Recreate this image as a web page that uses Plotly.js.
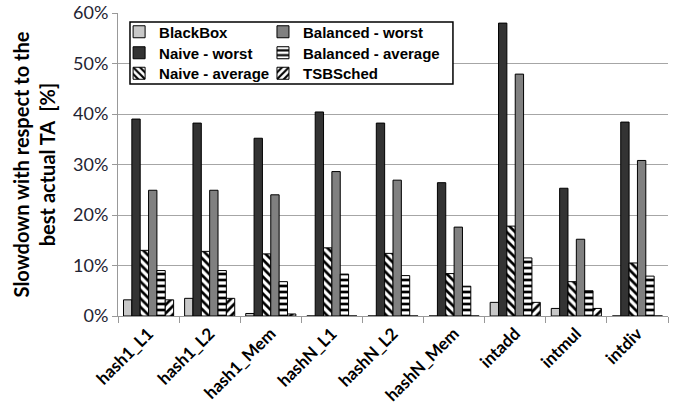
<!DOCTYPE html>
<html>
<head>
<meta charset="utf-8">
<script src="https://cdn.plot.ly/plotly-3.0.1.min.js"></script>
<style>html,body{margin:0;padding:0;background:#fff;}#chart{width:676px;height:408px;}</style>
</head>
<body>
<div id="chart"></div>
<script>
const categories = ["hash1_L1","hash1_L2","hash1_Mem","hashN_L1","hashN_L2","hashN_Mem","intadd","intmul","intdiv"];
const blackBox       = [3.2, 3.5, 0.5, 0, 0, 0, 2.7, 1.5, 0];
const naiveWorst     = [39.0, 38.2, 35.2, 40.4, 38.2, 26.4, 58.0, 25.3, 38.4];
const naiveAverage   = [13.0, 12.8, 12.3, 13.5, 12.4, 8.4, 17.8, 6.8, 10.5];
const balancedWorst  = [24.9, 24.9, 24.0, 28.6, 26.9, 17.6, 47.9, 15.2, 30.8];
const balancedAvg    = [9.0, 9.0, 6.8, 8.3, 8.0, 5.9, 11.5, 5.0, 7.9];
const tsbSched       = [3.2, 3.5, 0.4, 0, 0, 0, 2.7, 1.5, 0];
const yTicks = [0, 10, 20, 30, 40, 50, 60];
const yTickLabels = ["0%", "10%", "20%", "30%", "40%", "50%", "60%"];

const line = {color: '#000', width: 1};
function solid(name, y, color, leg) {
  return {type: 'bar', name: name, x: categories, y: y, legend: leg,
    marker: {color: color, line: line}, hoverinfo: 'skip'};
}
function hatched(name, y, shape, leg) {
  return {type: 'bar', name: name, x: categories, y: y, legend: leg,
    marker: {color: '#fff', line: line,
      pattern: {shape: shape, fgcolor: '#000', bgcolor: '#fff', size: 6, solidity: 0.45}},
    hoverinfo: 'skip'};
}
const traces = [
  solid('BlackBox', blackBox, '#c8c8c8', 'legend'),
  solid('Naive - worst', naiveWorst, '#333333', 'legend2'),
  hatched('Naive - average', naiveAverage, '\\', 'legend3'),
  solid('Balanced - worst', balancedWorst, '#808080', 'legend4'),
  hatched('Balanced - average', balancedAvg, '-', 'legend5'),
  hatched('TSBSched', tsbSched, '/', 'legend6')
];

const legFont = {family: 'Liberation Sans, Arial, sans-serif', size: 15, color: '#000', weight: 'bold'};
function leg(x, y) {
  return {x: x, y: y, xanchor: 'left', yanchor: 'middle', orientation: 'v',
    bgcolor: 'rgba(0,0,0,0)', borderwidth: 0, font: legFont, itemwidth: 30};
}
const c1 = 0.002, c2 = 0.2636;
const r1 = (316 - 32) / 303, r2 = (316 - 53) / 303, r3 = (316 - 73.5) / 303;
const layout = {
  width: 676, height: 408,
  margin: {l: 118, r: 8, t: 13, b: 92},
  paper_bgcolor: '#fff', plot_bgcolor: '#fff',
  barmode: 'group', bargap: 0.18, bargroupgap: 0,
  showlegend: true,
  legend: leg(c1, r1), legend2: leg(c1, r2), legend3: leg(c1, r3),
  legend4: leg(c2, r1), legend5: leg(c2, r2), legend6: leg(c2, r3),
  xaxis: {
    type: 'category', tickangle: -45, tickson: 'boundaries',
    ticks: 'outside', ticklen: 6, tickcolor: '#999', showline: true, linecolor: '#999', linewidth: 1,
    tickfont: {family: 'Lato, sans-serif', size: 17, color: '#000', weight: 'bold'},
    showgrid: false
  },
  yaxis: {
    range: [0, 60], tickvals: yTicks, ticktext: yTickLabels,
    ticks: 'outside', ticklen: 5, tickcolor: '#999',
    showline: true, linecolor: '#999', linewidth: 1,
    showgrid: true, gridcolor: '#a6a6a6', gridwidth: 1, zeroline: false,
    tickfont: {family: 'Lato, sans-serif', size: 18, color: '#1f2433'},
    title: {text: 'Slowdown with respect to the<br>best actual TA  [%]', standoff: 12,
      font: {family: 'Lato, sans-serif', size: 20, color: '#000', weight: 'bold'}}
  },
  shapes: [{type: 'rect', xref: 'paper', yref: 'paper', x0: 0.0218, x1: 0.609, y0: 0.7657, y1: 0.970,
    fillcolor: '#fff', line: {color: '#000', width: 1.5}, layer: 'above'}]
};
Plotly.newPlot('chart', traces, layout, {displayModeBar: false, staticPlot: true});
</script>
</body>
</html>
